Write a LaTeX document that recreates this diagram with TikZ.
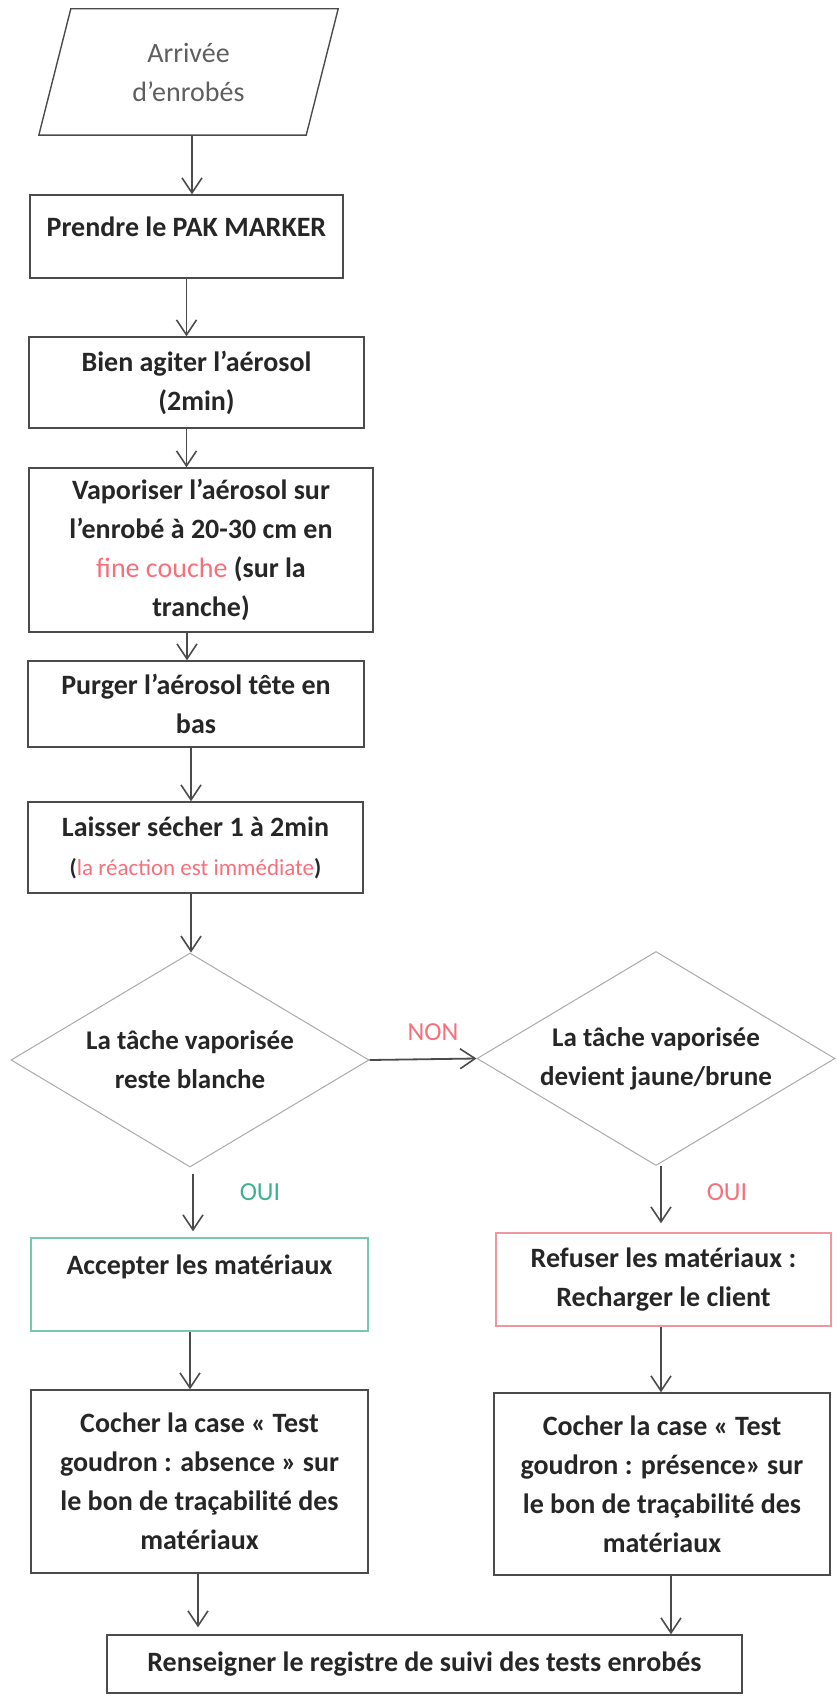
\documentclass[tikz,border=0pt]{standalone}
\usepackage{fontspec}
\setmainfont{Carlito}
\usepackage{xcolor}
\usetikzlibrary{arrows.meta,shapes.geometric}
\definecolor{inkDark}{RGB}{38,38,38}
\definecolor{lineDark}{RGB}{75,75,75}
\definecolor{lineLight}{RGB}{170,170,170}
\definecolor{softGrey}{RGB}{95,95,95}
\definecolor{warnPink}{RGB}{246,112,124}
\definecolor{okGreen}{RGB}{64,178,138}
\definecolor{okBorder}{RGB}{120,200,172}
\definecolor{koBorder}{RGB}{240,150,160}
\newcommand{\pinkw}[1]{\textcolor{warnPink}{\mdseries #1}}
\tikzset{
  stepbox/.style={rectangle,draw=lineDark,line width=1.4pt,inner sep=0pt,align=center,
    text=inkDark,font=\fontsize{28}{39}\selectfont\bfseries},
  testbox/.style={diamond,draw=lineLight,line width=1pt,inner sep=0pt,align=center,
    shape aspect=1.67,minimum width=358pt,minimum height=214pt,
    text=inkDark,font=\fontsize{27}{39}\selectfont\bfseries},
  flow/.style={draw=lineDark,line width=1.8pt,-{Straight Barb[length=15pt,width=20pt,line width=1.6pt]}},
  answer/.style={font=\fontsize{26}{30}\selectfont}
}
\begin{document}
\begin{tikzpicture}[x=1pt,y=-1pt]
\useasboundingbox (0,0) rectangle (837,1699);
% entree
\node[minimum width=267pt,minimum height=126pt,inner sep=0pt,align=center,text=softGrey,
  font=\fontsize{28}{39}\selectfont] (arrivee) at (188.5,72) {Arrivée\\d’enrobés};
\draw[draw=lineDark,line width=1.4pt] ([xshift=16pt]arrivee.north west) -- ([xshift=16pt]arrivee.north east)
  -- ([xshift=-16pt]arrivee.south east) -- ([xshift=-16pt]arrivee.south west) -- cycle;
% colonne principale
\node[stepbox,minimum width=313pt,minimum height=83pt] (prendre) at (186.5,236.5) {Prendre le PAK MARKER\\[-19pt]\mbox{}};
\node[stepbox,minimum width=335pt,minimum height=91pt] (agiter) at (196.5,382.5) {Bien agiter l’aérosol\\(2min)};
\node[stepbox,minimum width=344pt,minimum height=164pt] (vaporiser) at (201,550) {Vaporiser l’aérosol sur\\l’enrobé à 20-30 cm en\\\pinkw{fine couche} (sur la\\tranche)};
\node[stepbox,minimum width=336pt,minimum height=86pt] (purger) at (196,704) {Purger l’aérosol tête en\\bas};
\node[stepbox,minimum width=335pt,minimum height=91pt] (secher) at (195.5,847.5) {Laisser sécher 1 à 2min\\{\fontsize{23}{30}\selectfont(\pinkw{la réaction est immédiate})}};
% tests
\node[testbox] (blanche) at (190,1060) {La tâche vaporisée\\reste blanche};
\node[testbox] (jaune) at (656,1058.5) {La tâche vaporisée\\devient jaune/brune};
% issues
\node[stepbox,draw=okBorder,minimum width=337pt,minimum height=93pt] (accepter) at (199.5,1284.5) {Accepter les matériaux\\\mbox{}};
\node[stepbox,draw=koBorder,minimum width=335pt,minimum height=93pt] (refuser) at (663.5,1279.5) {Refuser les matériaux :\\Recharger le client};
\node[stepbox,minimum width=337pt,minimum height=183pt] (absence) at (199.5,1481.5) {Cocher la case « Test\\goudron : absence » sur\\le bon de traçabilité des\\matériaux};
\node[stepbox,minimum width=336pt,minimum height=182pt] (presence) at (662,1484) {Cocher la case « Test\\goudron : présence» sur\\le bon de traçabilité des\\matériaux};
\node[stepbox,minimum width=635pt,minimum height=58pt] (registre) at (424.5,1664) {Renseigner le registre de suivi des tests enrobés};
% reponses
\node[answer,text=warnPink] (non) at (433,1032) {NON};
\node[answer,text=okGreen] (ouiA) at (260,1192) {OUI};
\node[answer,text=warnPink] (ouiB) at (727,1192) {OUI};
% fleches
\draw[flow] ([xshift=3.5pt]arrivee.south) -- ([xshift=3.5pt]arrivee.south |- prendre.north);
\draw[flow] (prendre.south) -- (prendre.south |- agiter.north);
\draw[flow] (prendre.south |- agiter.south) -- (prendre.south |- vaporiser.north);
\draw[flow] ([xshift=-14pt]vaporiser.south) -- ([xshift=-14pt]vaporiser.south |- purger.north);
\draw[flow] ([xshift=-5pt]purger.south) -- ([xshift=-5pt]purger.south |- secher.north);
\draw[flow] ([xshift=-4.5pt]secher.south) -- ([xshift=-4.5pt]secher.south |- blanche.north);
\draw[flow] (blanche.east) -- (jaune.west);
\draw[flow,shorten <=6pt,shorten >=6pt] ([xshift=3pt]blanche.south) -- ([xshift=3pt]blanche.south |- accepter.north);
\draw[flow,shorten >=9pt] ([xshift=5pt]jaune.south) -- ([xshift=5pt]jaune.south |- refuser.north);
\draw[flow] ([xshift=-9.5pt]accepter.south) -- ([xshift=-9.5pt]accepter.south |- absence.north);
\draw[flow] ([xshift=-2.5pt]refuser.south) -- ([xshift=-2.5pt]refuser.south |- presence.north);
\draw[flow,shorten >=7pt] ([xshift=-1.5pt]absence.south) -- ([xshift=-1.5pt]absence.south |- registre.north);
\draw[flow] ([xshift=9pt]presence.south) -- ([xshift=9pt]presence.south |- registre.north);
\end{tikzpicture}
\end{document}
